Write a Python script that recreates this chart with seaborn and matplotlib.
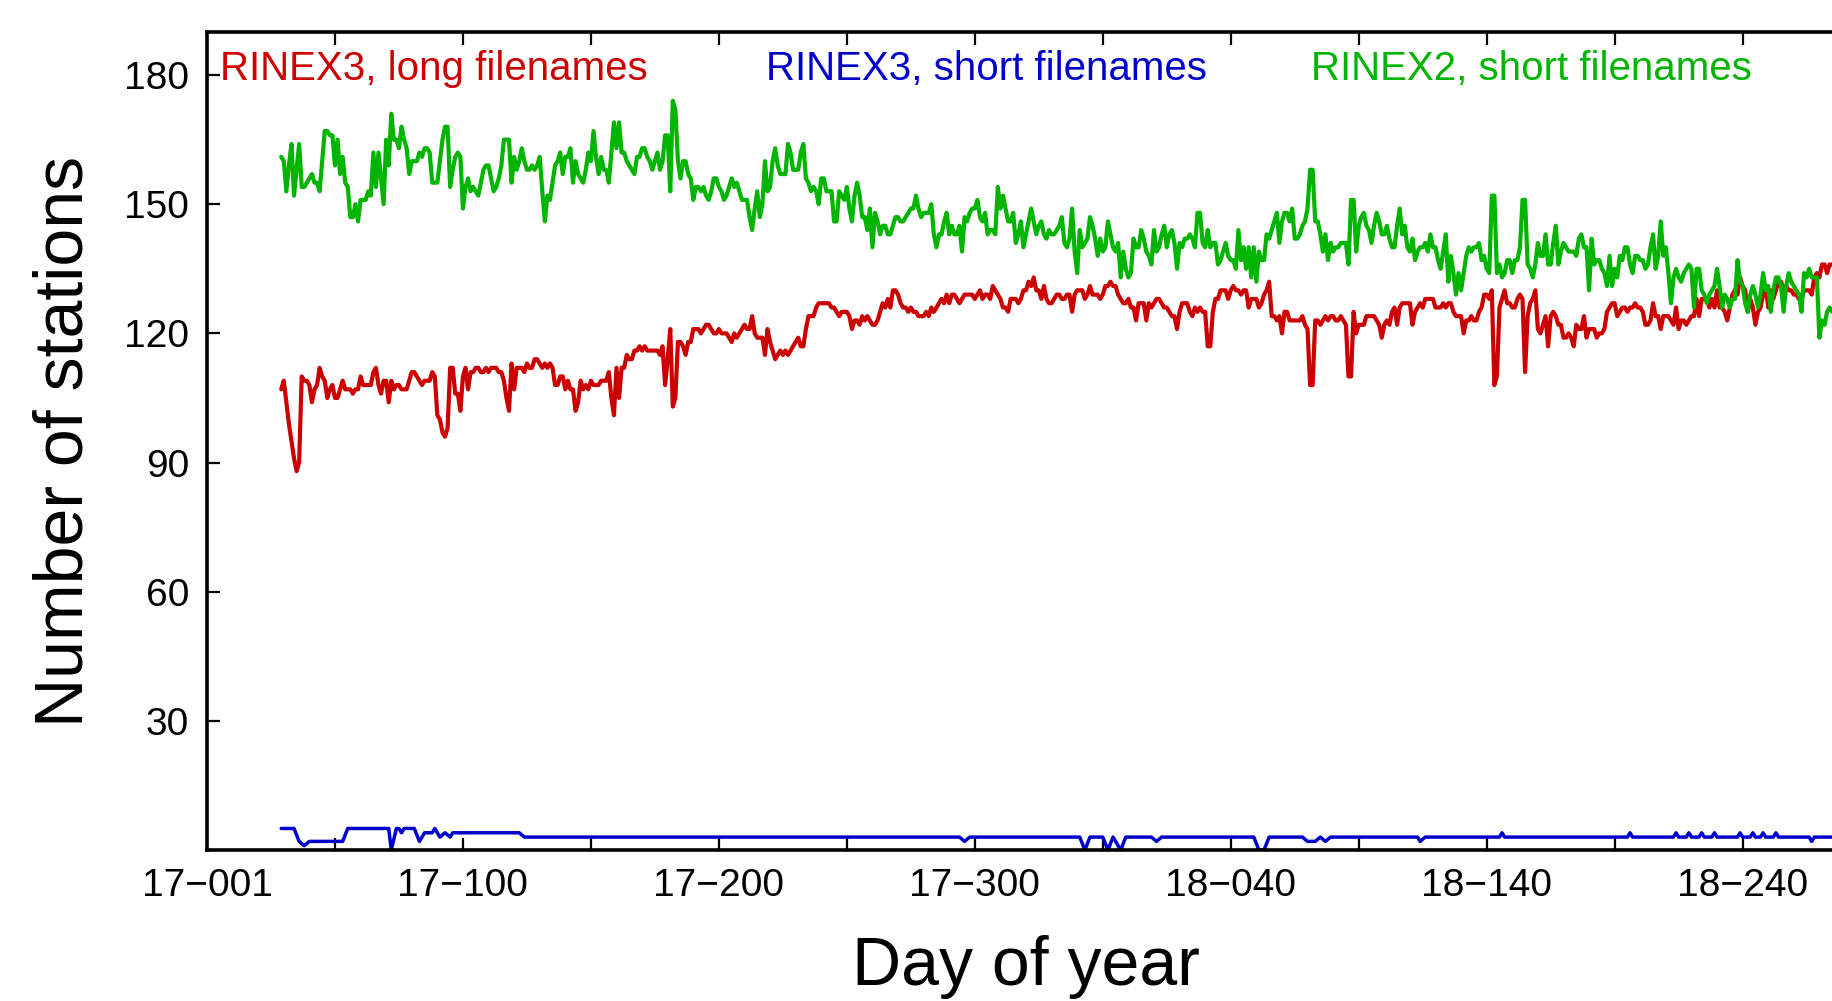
import numpy as np
import pandas as pd
import seaborn as sns
from matplotlib import pyplot as plt
from matplotlib.ticker import MultipleLocator

#%%############################################################################
#    Data: daily station counts, day index 0 = 17-001
###############################################################################

first_day = 29

rinex3_long = [
    107,109,104,99,95,91,88,90,110,109, 109,108,104,107,108,112,110,109,105,107,
    108,105,105,107,109,107,107,107,106,107, 107,110,108,108,108,108,111,112,108,106,
    109,109,104,109,107,108,108,107,107,107, 109,111,111,110,109,108,109,109,109,111,
    110,101,100,97,96,98,112,112,106,106, 102,110,112,107,111,111,112,112,111,111,
    112,111,112,112,112,111,111,109,105,102, 113,107,112,112,112,111,113,112,112,114,
    114,113,112,113,112,113,112,108,108,110, 110,107,109,107,107,102,104,109,107,108,
    107,109,108,108,108,109,109,109,111,105, 101,112,105,112,112,115,114,114,116,116,
    117,116,117,116,116,116,116,116,115,117, 108,114,121,103,105,118,118,117,115,118,
    118,121,121,121,120,121,122,122,121,120, 120,121,120,120,120,119,118,120,119,120,
    121,122,121,121,124,120,119,119,119,115, 121,118,116,114,115,116,115,116,115,116,
    117,118,
    119,117,117,121,124,124,124,126,127,127, 127,127,127,126,126,125,124,125,125,125,
    124,121,123,123,122,124,123,124,123,122, 122,123,125,127,126,128,126,130,130,129,
    127,126,126,125,126,125,125,124,124,124, 125,124,126,125,126,127,128,127,129,127,
    129,129,128,127,128,129,129,129,129,128, 129,130,128,129,129,128,131,130,129,128,
    126,126,125,128,128,128,127,128,130,130, 132,131,133,130,130,128,131,128,127,127,
    128,
    129,129,128,128,129,129,125,129,130,130, 130,128,129,131,129,129,129,128,129,131,
    131,132,131,131,129,128,127,127,128,126, 126,123,127,127,127,123,127,126,127,128,
    128,127,126,126,125,124,124,121,125,127, 127,127,125,124,126,125,126,125,125,117,
    117,125,128,128,130,130,130,128,130,131, 130,130,129,130,130,126,128,128,128,126,
    127,129,130,132,124,124,123,124,120,125, 125,123,123,123,123,123,124,122,121,108,
    108,
    123,123,122,123,124,123,124,124,123,123, 124,123,122,110,110,125,120,122,122,122,
    124,124,124,124,123,122,119,122,123,122, 125,126,122,126,127,127,127,127,122,125,
    126,127,126,128,128,128,128,126,126,126, 127,126,127,127,125,124,124,124,120,123,
    123,124,123,123,125,126,129,129,128,130, 108,110,126,128,130,127,127,126,126,128,
    129,128,111,124,127,128,130,121,120,122, 124,117,124,125,124,122,122,119,119,120,
    119,
    117,122,121,121,124,119,121,121,121,119, 120,120,121,125,126,127,127,124,125,126,
    126,125,126,126,127,126,126,125,122,122, 123,127,124,124,121,124,124,124,123,122,
    126,121,123,123,122,123,124,124,128,124, 128,128,128,126,128,126,130,126,126,125,
    123,126,129,130,129,133,131,130,125,128, 126,122,125,126,129,131,126,130,128,130,
    132,132,130,131,130,130,129,129,128,128, 130,130,130,129,133,134,133,136,136,134,
    136,136,
]

rinex2_short = [
    161,160,153,159,164,152,158,164,154,154, 155,156,157,155,155,153,160,167,167,166,
    166,159,165,157,161,155,154,147,147,150, 146,151,151,151,153,152,162,154,162,156,
    150,165,159,171,165,165,163,168,165,163, 157,160,160,160,162,161,163,163,162,155,
    155,155,160,165,168,168,154,158,161,162, 161,149,154,156,153,154,153,152,155,158,
    159,159,156,153,154,156,159,165,165,165, 155,161,158,160,163,160,158,158,159,158,
    159,161,153,146,152,151,155,159,160,162, 157,161,161,163,155,160,157,156,155,158,
    162,160,167,161,157,161,158,158,155,162, 169,163,169,162,162,160,159,158,157,161,
    161,163,163,161,160,158,160,162,158,160, 166,166,153,174,172,160,156,160,160,157,
    156,151,154,154,153,154,152,151,153,156, 156,154,153,151,152,154,156,154,155,153,
    151,151,151,147,144,149,153,147,150,160, 153,154,160,163,159,157,157,157,164,162,
    158,158,
    158,162,164,156,155,153,154,153,150,156, 156,153,153,153,146,146,153,152,151,154,
    149,146,152,155,152,147,147,144,149,140, 148,146,143,145,145,143,143,145,147,147,
    146,146,147,148,149,149,152,149,147,148, 148,148,150,143,140,143,143,146,148,143,
    145,143,143,145,139,147,146,148,149,149, 151,147,146,148,143,144,144,143,154,149,
    152,149,146,146,148,141,143,146,140,143, 146,149,146,143,145,146,143,142,144,143,
    143,
    144,145,147,141,140,142,149,139,134,144, 140,141,142,147,145,142,138,142,139,140,
    146,143,140,139,141,133,139,135,133,134, 142,140,140,144,142,139,138,136,144,139,
    140,143,145,140,143,144,141,135,141,140, 142,142,143,142,140,148,148,141,140,144,
    140,141,141,136,137,139,141,138,137,137, 135,144,137,140,135,140,133,140,132,139,
    137,137,143,142,144,146,148,141,146,148, 148,146,149,142,142,143,145,146,149,158,
    158,146,146,143,139,143,137,141,139,140, 140,141,141,141,136,151,151,139,145,147,
    148,145,144,141,145,148,146,143,143,145, 142,140,140,145,149,143,145,140,139,142,
    137,139,140,140,141,139,143,140,140,137, 135,139,143,132,138,134,129,134,130,134,
    138,140,139,140,140,141,137,138,135,134, 152,152,134,136,133,134,137,137,134,137,
    137,140,151,151,136,135,133,136,141,138, 138,143,136,136,141,145,136,139,141,140,
    139,139,
    139,138,142,143,140,140,130,142,136,137, 137,135,134,131,138,131,135,133,138,137,
    140,140,136,134,138,138,137,137,135, 136,140,143,135,138,146,138,140,134,127,
    133,135,133,132,134,135,136,135,126, 135,135,130,129,127,129,130,131,135,131,
    126,129,128,126,128,128,137,132,131,127, 125,129,131,129,126,129,134,130,131,125,
    130,133,133,131,125,131,134,132,131,130, 129,125,134,133,135,133,133,133,119,
    123,122,125,126,125,
]

rinex3_short_day = [29,34,36,38,40, 53,55,71,72,74, 75,76,77,81,83, 85,88,89,91,93,
                    95,96,122,124,294, 296,298,341,343,345, 350,352,354,357,359,
                    369,371,373,409,411, 413,415,428,430,433, 435,437,439,473,474,
                    476,505,506,507,555, 556,557,573,574,575, 578,579,580,583,584,
                    585,588,589,590,598, 599,600,603,604,605, 607,608,609,612,613,
                    614,626,627,628,640]
rinex3_short = [5,5,2,1,2, 2,5,5,0,5, 5,4,5,5,2, 4,4,5,3,4,
                3,4,4,3,3, 2,3,3,0,3, 3,0,3,0,3,
                3,2,3,3,0, 0,3,3,2,2, 3,2,3,3,2,
                3,3,4,3,3, 4,3,3,4,3, 3,4,3,3,4,
                3,3,4,3,3, 4,3,3,4,3, 3,4,3,3,4,
                3,3,2,3,3]

series_names = ['RINEX3, long filenames', 'RINEX3, short filenames', 'RINEX2, short filenames']
series_colors = ['#cc0000', '#0000cc', '#00b400']

tick_days = [0, 100, 200, 300, 400, 500, 600]
tick_labels = ['17\u2212001', '17\u2212100', '17\u2212200', '17\u2212300',
               '18\u2212040', '18\u2212140', '18\u2212240']
y_ticks = [30, 60, 90, 120, 150, 180]

#%%############################################################################
#    Plot
###############################################################################

red_df = pd.DataFrame({'day': first_day + np.arange(len(rinex3_long)), 'stations': rinex3_long})
green_df = pd.DataFrame({'day': first_day + np.arange(len(rinex2_short)), 'stations': rinex2_short})
blue_df = pd.DataFrame({'day': rinex3_short_day, 'stations': rinex3_short})

sns.set_style('ticks', {'axes.edgecolor': 'black', 'text.color': 'black',
                        'xtick.color': 'black', 'ytick.color': 'black',
                        'axes.labelcolor': 'black'})
plt.rcParams['font.family'] = ['Liberation Sans', 'DejaVu Sans']

fig = plt.figure(figsize=(18.33, 10.01), dpi=100)
# axes run past the right edge of the canvas, as in the original crop
ax = fig.add_axes([207 / 1833, 151 / 1001, 1638 / 1833, 818 / 1001])

sns.lineplot(data=red_df, x='day', y='stations', color=series_colors[0], linewidth=3.0, estimator=None, ax=ax)
sns.lineplot(data=blue_df, x='day', y='stations', color=series_colors[1], linewidth=2.5, estimator=None, ax=ax)
sns.lineplot(data=green_df, x='day', y='stations', color=series_colors[2], linewidth=3.0, estimator=None, ax=ax)

ax.set_xlim(0, 640)
ax.set_ylim(0, 190)
ax.set_xticks(tick_days)
ax.set_xticklabels(tick_labels)
ax.xaxis.set_minor_locator(MultipleLocator(50))
ax.set_yticks(y_ticks)

ax.tick_params(axis='x', which='both', direction='in', top=True, length=9, width=1.6,
               color='black', labelcolor='black', labelsize=28, pad=13)
ax.tick_params(axis='y', direction='in', length=9, width=1.6,
               color='black', labelcolor='black', labelsize=28, pad=13)
for s in ax.spines.values():
    s.set_linewidth(2.6)
    s.set_color('black')

ax.set_xlabel('Day of year', fontsize=49, labelpad=22, color='black')
ax.set_ylabel('Number of stations', fontsize=49, labelpad=20, color='black')

for xpos, name, col in zip([0.008, 0.341, 0.674], series_names, series_colors):
    ax.text(xpos, 0.941, name, color=col, fontsize=29, transform=ax.transAxes,
            ha='left', va='baseline')

plt.savefig('out.png', dpi=100)
